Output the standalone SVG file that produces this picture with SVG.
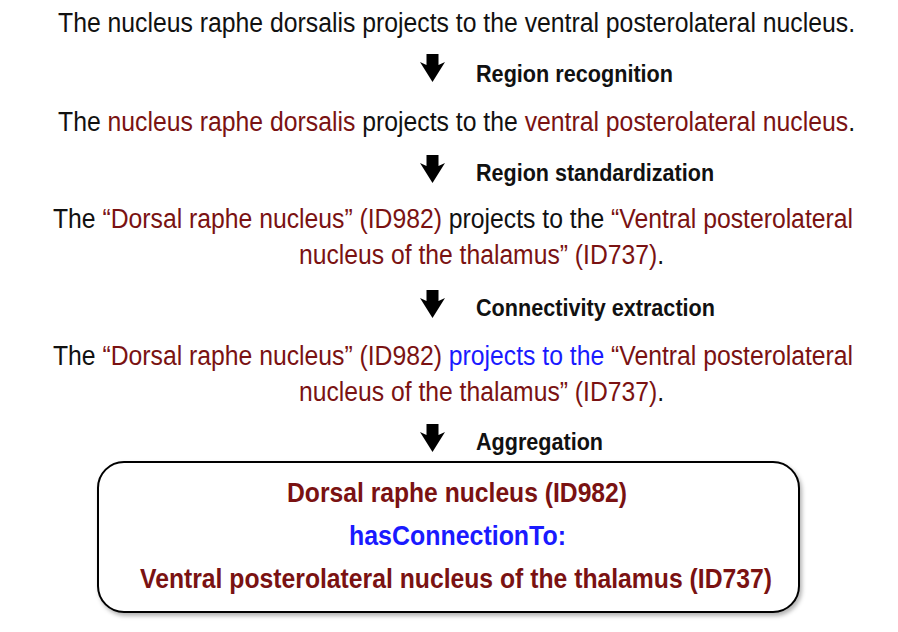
<svg xmlns="http://www.w3.org/2000/svg" width="898" height="632" viewBox="0 0 898 632">
<style>
.t{font-family:"Liberation Sans",Arial,sans-serif;font-size:28px;fill:#111}
.r{fill:#7a1212}
.b{fill:#1a1aff}
.l{font-family:"Liberation Sans",Arial,sans-serif;font-size:23px;font-weight:bold;fill:#111}
.bx{font-family:"Liberation Sans",Arial,sans-serif;font-size:27px;font-weight:bold}
.arr{fill:#000}
</style>
<defs>
<filter id="sh" x="-5%" y="-5%" width="110%" height="115%">
<feDropShadow dx="2" dy="3" stdDeviation="2" flood-color="#000" flood-opacity="0.3"/>
</filter>
<path id="ar" d="M-6,0 H6 V11 L12.5,8 L0,28 L-12.5,8 L-6,11 Z"/>
</defs>
<g id="step1">
<text class="t" transform="translate(58,32) scale(0.88,1)" textLength="905.7" lengthAdjust="spacingAndGlyphs">The nucleus raphe dorsalis projects to the ventral posterolateral nucleus.</text>
</g>
<g id="connectors">
<use href="#ar" class="arr" x="432.5" y="54"/>
<use href="#ar" class="arr" x="432.5" y="155"/>
<use href="#ar" class="arr" x="432.5" y="290"/>
<use href="#ar" class="arr" x="432.5" y="424"/>
<text class="l" transform="translate(476,82) scale(0.88,1)" textLength="223.9" lengthAdjust="spacingAndGlyphs">Region recognition</text>
<text class="l" transform="translate(476,181) scale(0.88,1)" textLength="270.5" lengthAdjust="spacingAndGlyphs">Region standardization</text>
<text class="l" transform="translate(476,316) scale(0.88,1)" textLength="271.6" lengthAdjust="spacingAndGlyphs">Connectivity extraction</text>
<text class="l" transform="translate(476,450) scale(0.88,1)" textLength="144.3" lengthAdjust="spacingAndGlyphs">Aggregation</text>
</g>
<g id="step2">
<text class="t" transform="translate(58,131) scale(0.88,1)" textLength="905.7" lengthAdjust="spacingAndGlyphs">The <tspan class="r">nucleus raphe dorsalis</tspan> projects to the <tspan class="r">ventral posterolateral nucleus</tspan>.</text>
</g>
<g id="step3">
<text class="t" transform="translate(53,228) scale(0.88,1)" textLength="909.1" lengthAdjust="spacingAndGlyphs">The <tspan class="r">“Dorsal raphe nucleus” (ID982)</tspan> projects to the <tspan class="r">“Ventral posterolateral</tspan></text>
<text class="t r" transform="translate(299,264) scale(0.88,1)" textLength="414.8" lengthAdjust="spacingAndGlyphs">nucleus of the thalamus” (ID737)<tspan fill="#111">.</tspan></text>
</g>
<g id="step4">
<text class="t" transform="translate(53,365) scale(0.88,1)" textLength="909.1" lengthAdjust="spacingAndGlyphs">The <tspan class="r">“Dorsal raphe nucleus” (ID982)</tspan> <tspan class="b">projects to the</tspan> <tspan class="r">“Ventral posterolateral</tspan></text>
<text class="t r" transform="translate(299,401) scale(0.88,1)" textLength="414.8" lengthAdjust="spacingAndGlyphs">nucleus of the thalamus” (ID737)<tspan fill="#111">.</tspan></text>
</g>
<g id="result">
<rect x="98" y="462" width="701" height="150" rx="26" ry="26" fill="#fff" stroke="#000" stroke-width="2" filter="url(#sh)"/>
<text class="bx r" transform="translate(287,502) scale(0.88,1)" textLength="386.4" lengthAdjust="spacingAndGlyphs">Dorsal raphe nucleus (ID982)</text>
<text class="bx b" transform="translate(349,545) scale(0.88,1)" textLength="246.6" lengthAdjust="spacingAndGlyphs">hasConnectionTo:</text>
<text class="bx r" transform="translate(140,588) scale(0.88,1)" textLength="718.2" lengthAdjust="spacingAndGlyphs">Ventral posterolateral nucleus of the thalamus (ID737)</text>
</g>
</svg>
